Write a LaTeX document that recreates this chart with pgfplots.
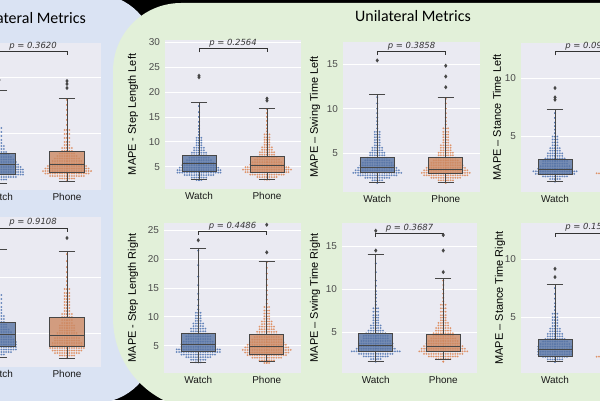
\documentclass[border=0pt]{standalone}
\usepackage{fontspec}
\setmainfont{Liberation Sans}
\newfontfamily\calibri{Carlito}
\newfontfamily\djv{DejaVu Sans}
\usepackage{pgfplots}
\pgfplotsset{compat=1.18}
\usepgfplotslibrary{statistics}
\definecolor{panelblue}{HTML}{DAE3F3}
\definecolor{panelgreen}{HTML}{E2F0D9}
\definecolor{sbbg}{HTML}{EAEAF2}
\definecolor{wbox}{HTML}{5975A4}
\definecolor{pbox}{HTML}{CC8963}
\definecolor{wdot}{HTML}{4C72B0}
\definecolor{pdot}{HTML}{DD8452}
\definecolor{edge}{HTML}{474747}
\tikzset{ptext/.style={anchor=south, inner sep=1.2bp, font=\djv\itshape\fontsize{8.5}{10}\selectfont, text=black!80}}
\pgfplotsset{
 sb/.style={scale only axis, anchor=south west, axis background/.style={fill=sbbg},
  axis line style={draw=none}, ymajorgrids, grid style={white, line width=0.9bp},
  major tick length=0pt, xmin=-0.5, xmax=1.5, xtick={0,1}, xticklabels={Watch,Phone},
  tick label style={font=\fontsize{10}{12}\selectfont},
  xticklabel style={text=black!90}, yticklabel style={text=black!70, xshift=-1.5bp},
  ylabel style={font=\fontsize{11}{13}\selectfont, text=black, anchor=center},
  /pgf/number format/assume math mode=true, clip=false},
 swarm/.style={draw=none, mark=none, forget plot, error bars/.cd, x dir=both, x explicit,
  error mark=none, error bar style={draw=#1, draw opacity=0.85, line width=2bp,
  line cap=round, dash pattern=on 0bp off 2.4bp}},
 bx/.style={boxplot/draw direction=y, draw=edge, line width=1bp, fill=#1, fill opacity=0.8, mark=diamond*,
  mark size=1.3bp, mark options={draw=edge, fill=edge, fill opacity=1}},
 brk/.style={draw=black!80, line width=1bp, mark=none, forget plot},
}
\begin{document}
\begin{tikzpicture}[x=1bp,y=1bp]
\useasboundingbox (0,0) rectangle (600,400);
\clip (0,0) rectangle (600,400);
\fill[black] (0,0) rectangle (600,400);
\fill[panelblue, rounded corners=60bp] (-100,-3) rectangle (155,406);
\fill[panelgreen] (620,397) -- (181,397) arc[start angle=90, end angle=180, radius=68] -- (113,82) arc[start angle=180, end angle=270, radius=92] -- (620,-10) -- cycle;
\node[anchor=base, inner sep=0, font=\calibri\fontsize{16}{19}\selectfont] at (413,379) {Unilateral Metrics};
\node[anchor=base east, inner sep=0, font=\calibri\fontsize{16}{19}\selectfont] at (86,377) {Bilateral Metrics};

% ---------------- A1 ----------------
\begin{axis}[sb, at={(-35bp,210bp)}, width=136bp, height=147bp, ymin=0, ymax=14.7, ytick={5.7,11.3}, yticklabels={}]
\addplot[swarm=wdot] table[x=x,y=y,x error=w,row sep=\\]{x y w\\
0 0.8 .03\\ 0 1.05 .12\\ 0 1.3 .25\\ 0 1.55 .36\\ 0 1.8 .38\\ 0 2.05 .36\\ 0 2.3 .32\\ 0 2.55 .3\\ 0 2.8 .26\\ 0 3.05 .22\\ 0 3.3 .2\\ 0 3.55 .16\\ 0 3.8 .12\\ 0 4.1 .1\\ 0 4.4 .08\\ 0 4.7 .07\\ 0 5.0 .06\\ 0 5.4 .05\\ 0 5.8 .04\\ 0 6.2 .04\\ 0 6.6 .03\\ 0 7.0 .03\\ 0 7.5 .02\\ 0 8.0 .02\\ 0 8.6 .01\\ 0 9.2 .01\\ 0 9.8 .01\\};
\addplot[swarm=pdot] table[x=x,y=y,x error=w,row sep=\\]{x y w\\
1 0.9 .03\\ 1 1.15 .14\\ 1 1.4 .26\\ 1 1.65 .34\\ 1 1.9 .36\\ 1 2.15 .34\\ 1 2.4 .3\\ 1 2.65 .26\\ 1 2.9 .22\\ 1 3.15 .18\\ 1 3.4 .15\\ 1 3.65 .12\\ 1 3.9 .1\\ 1 4.2 .08\\ 1 4.5 .07\\ 1 4.8 .06\\ 1 5.2 .05\\ 1 5.6 .04\\ 1 6.0 .04\\ 1 6.5 .03\\ 1 7.0 .03\\ 1 7.5 .02\\ 1 8.0 .02\\ 1 8.5 .01\\ 1 9.0 .01\\};
\addplot[bx=wbox, boxplot prepared={lower whisker=0.7, lower quartile=1.6, median=2.6, upper quartile=3.6, upper whisker=9.9, draw position=0, box extend=0.5, whisker extend=0.24}] table[row sep=\\,y index=0]{11.0\\};
\addplot[bx=pbox, boxplot prepared={lower whisker=0.9, lower quartile=1.8, median=2.6, upper quartile=3.8, upper whisker=9.1, draw position=1, box extend=0.5, whisker extend=0.24}] table[row sep=\\,y index=0]{10.2\\ 10.6\\ 10.9\\};
\addplot[brk] coordinates {(0,13.45) (0,13.8) (1,13.8) (1,13.45)};
\node[ptext] at (axis cs:0.5,13.8) {p = 0.3620};
\end{axis}

% ---------------- A2 ----------------
\begin{axis}[sb, at={(-35bp,33bp)}, width=136bp, height=150bp, ymin=0, ymax=15, ytick={3.4,9}, yticklabels={}]
\addplot[swarm=wdot] table[x=x,y=y,x error=w,row sep=\\]{x y w\\
0 1.0 .03\\ 0 1.25 .1\\ 0 1.5 .2\\ 0 1.75 .26\\ 0 2.0 .28\\ 0 2.25 .27\\ 0 2.5 .25\\ 0 2.75 .23\\ 0 3.0 .21\\ 0 3.25 .2\\ 0 3.5 .18\\ 0 3.75 .16\\ 0 4.0 .14\\ 0 4.25 .12\\ 0 4.5 .1\\ 0 4.8 .09\\ 0 5.1 .08\\ 0 5.4 .07\\ 0 5.7 .06\\ 0 6.0 .06\\ 0 6.4 .05\\ 0 6.8 .04\\ 0 7.2 .04\\ 0 7.6 .03\\ 0 8.0 .03\\ 0 8.5 .02\\ 0 9.0 .02\\ 0 9.6 .01\\ 0 10.2 .01\\ 0 10.8 .01\\ 0 11.5 .01\\};
\addplot[swarm=pdot] table[x=x,y=y,x error=w,row sep=\\]{x y w\\
1 0.9 .03\\ 1 1.15 .12\\ 1 1.4 .2\\ 1 1.65 .24\\ 1 1.9 .25\\ 1 2.15 .24\\ 1 2.4 .22\\ 1 2.65 .2\\ 1 2.9 .18\\ 1 3.15 .17\\ 1 3.4 .15\\ 1 3.65 .14\\ 1 3.9 .13\\ 1 4.15 .12\\ 1 4.4 .1\\ 1 4.7 .1\\ 1 5.0 .09\\ 1 5.3 .08\\ 1 5.6 .07\\ 1 5.9 .07\\ 1 6.2 .06\\ 1 6.5 .05\\ 1 6.8 .05\\ 1 7.1 .05\\ 1 7.4 .04\\ 1 7.8 .04\\ 1 8.2 .03\\ 1 8.6 .03\\ 1 9.0 .02\\ 1 9.5 .02\\ 1 10.0 .01\\ 1 10.6 .01\\ 1 11.3 .01\\};
\addplot[bx=wbox, boxplot prepared={lower whisker=1.0, lower quartile=2.1, median=3.3, upper quartile=4.5, upper whisker=11.8, draw position=0, box extend=0.5, whisker extend=0.24}] coordinates {};
\addplot[bx=pbox, boxplot prepared={lower whisker=0.9, lower quartile=2.1, median=3.2, upper quartile=5.0, upper whisker=11.6, draw position=1, box extend=0.5, whisker extend=0.24}] table[row sep=\\,y index=0]{12.9\\};
\addplot[brk] coordinates {(0,13.55) (0,13.9) (1,13.9) (1,13.55)};
\node[ptext] at (axis cs:0.5,13.9) {p = 0.9108};
\end{axis}

% ---------------- B1 ----------------
\begin{axis}[sb, at={(165bp,211bp)}, width=136bp, height=149bp, ymin=0.5, ymax=30.5, ytick={5,10,...,30},
 ylabel={MAPE - Step Length Left}, ylabel style={at={(axis description cs:-0.235,0.5)}}]
\addplot[swarm=wdot] table[x=x,y=y,x error=w,row sep=\\]{x y w\\
0 2.3 .04\\ 0 2.8 .12\\ 0 3.3 .22\\ 0 3.8 .33\\ 0 4.3 .35\\ 0 4.8 .3\\ 0 5.3 .26\\ 0 5.8 .22\\ 0 6.3 .2\\ 0 6.8 .17\\ 0 7.3 .14\\ 0 7.8 .11\\ 0 8.3 .09\\ 0 8.8 .08\\ 0 9.3 .06\\ 0 9.8 .05\\ 0 10.3 .05\\ 0 10.8 .04\\ 0 11.4 .03\\ 0 12.0 .03\\ 0 12.6 .02\\ 0 13.2 .02\\ 0 14.0 .02\\ 0 15.0 .01\\ 0 16.0 .01\\ 0 17.2 .01\\};
\addplot[swarm=pdot] table[x=x,y=y,x error=w,row sep=\\]{x y w\\
1 2.4 .05\\ 1 2.9 .16\\ 1 3.4 .26\\ 1 3.9 .34\\ 1 4.4 .37\\ 1 4.9 .32\\ 1 5.4 .27\\ 1 5.9 .23\\ 1 6.4 .2\\ 1 6.9 .17\\ 1 7.4 .14\\ 1 7.9 .12\\ 1 8.4 .1\\ 1 8.9 .08\\ 1 9.4 .07\\ 1 9.9 .06\\ 1 10.4 .05\\ 1 10.9 .05\\ 1 11.5 .04\\ 1 12.1 .03\\ 1 12.7 .03\\ 1 13.4 .02\\ 1 14.2 .02\\ 1 15.0 .01\\ 1 15.8 .01\\ 1 16.6 .01\\};
\addplot[bx=wbox, boxplot prepared={lower whisker=2.35, lower quartile=4.0, median=5.55, upper quartile=7.2, upper whisker=17.9, draw position=0, box extend=0.5, whisker extend=0.24}] table[row sep=\\,y index=0]{23.0\\ 23.3\\};
\addplot[bx=pbox, boxplot prepared={lower whisker=2.5, lower quartile=3.85, median=5.2, upper quartile=7.1, upper whisker=16.8, draw position=1, box extend=0.5, whisker extend=0.24}] table[row sep=\\,y index=0]{18.3\\ 18.7\\};
\addplot[brk] coordinates {(0,28.0) (0,28.7) (1,28.7) (1,28.0)};
\node[ptext] at (axis cs:0.5,28.7) {p = 0.2564};
\end{axis}

% ---------------- B2 ----------------
\begin{axis}[sb, at={(164bp,27bp)}, width=137bp, height=150bp, ymin=0.25, ymax=26.3, ytick={5,10,...,25},
 ylabel={MAPE - Step Length Right}, ylabel style={at={(axis description cs:-0.226,0.5)}}]
\addplot[swarm=wdot] table[x=x,y=y,x error=w,row sep=\\]{x y w\\
0 2.1 .04\\ 0 2.55 .12\\ 0 3.0 .2\\ 0 3.45 .28\\ 0 3.9 .33\\ 0 4.35 .32\\ 0 4.8 .28\\ 0 5.25 .25\\ 0 5.7 .22\\ 0 6.15 .2\\ 0 6.6 .18\\ 0 7.05 .16\\ 0 7.5 .13\\ 0 7.95 .11\\ 0 8.4 .09\\ 0 8.85 .08\\ 0 9.3 .07\\ 0 9.75 .06\\ 0 10.2 .05\\ 0 10.7 .04\\ 0 11.3 .03\\ 0 12.0 .02\\ 0 13.0 .02\\ 0 14.0 .01\\ 0 15.5 .01\\ 0 17.0 .01\\ 0 19.0 .01\\ 0 21.5 .01\\};
\addplot[swarm=pdot] table[x=x,y=y,x error=w,row sep=\\]{x y w\\
1 2.0 .04\\ 1 2.45 .12\\ 1 2.9 .22\\ 1 3.35 .3\\ 1 3.8 .35\\ 1 4.25 .37\\ 1 4.7 .33\\ 1 5.15 .29\\ 1 5.6 .25\\ 1 6.05 .22\\ 1 6.5 .19\\ 1 6.95 .17\\ 1 7.4 .15\\ 1 7.85 .13\\ 1 8.3 .11\\ 1 8.75 .1\\ 1 9.2 .08\\ 1 9.65 .07\\ 1 10.1 .06\\ 1 10.6 .05\\ 1 11.1 .04\\ 1 11.7 .04\\ 1 12.3 .03\\ 1 13.0 .03\\ 1 13.8 .02\\ 1 14.6 .02\\ 1 15.5 .01\\ 1 16.5 .01\\ 1 17.5 .01\\ 1 18.5 .01\\ 1 19.5 .01\\};
\addplot[bx=wbox, boxplot prepared={lower whisker=2.1, lower quartile=3.96, median=5.25, upper quartile=7.15, upper whisker=21.8, draw position=0, box extend=0.5, whisker extend=0.24}] table[row sep=\\,y index=0]{23.3\\};
\addplot[bx=pbox, boxplot prepared={lower whisker=2.2, lower quartile=3.55, median=4.8, upper quartile=7.0, upper whisker=19.7, draw position=1, box extend=0.5, whisker extend=0.24}] table[row sep=\\,y index=0]{21.2\\ 26.0\\};
\addplot[brk] coordinates {(0,24.2) (0,24.8) (1,24.8) (1,24.2)};
\node[ptext] at (axis cs:0.5,24.8) {p = 0.4486};
\end{axis}

% ---------------- C1 ----------------
\begin{axis}[sb, at={(343bp,208bp)}, width=137bp, height=150bp, ymin=0.67, ymax=17.46, ytick={5,10,15},
 ylabel={MAPE – Swing Time Left}, ylabel style={at={(axis description cs:-0.204,0.5)}}]
\addplot[swarm=wdot] table[x=x,y=y,x error=w,row sep=\\]{x y w\\
0 1.7 .03\\ 0 1.98 .1\\ 0 2.26 .2\\ 0 2.54 .3\\ 0 2.82 .36\\ 0 3.1 .34\\ 0 3.38 .3\\ 0 3.66 .26\\ 0 3.94 .22\\ 0 4.22 .2\\ 0 4.5 .17\\ 0 4.78 .14\\ 0 5.06 .12\\ 0 5.34 .1\\ 0 5.62 .08\\ 0 5.9 .07\\ 0 6.2 .06\\ 0 6.5 .05\\ 0 6.8 .05\\ 0 7.1 .04\\ 0 7.4 .04\\ 0 7.8 .03\\ 0 8.2 .03\\ 0 8.6 .02\\ 0 9.0 .02\\ 0 9.5 .01\\ 0 10.0 .01\\ 0 10.6 .01\\ 0 11.3 .01\\};
\addplot[swarm=pdot] table[x=x,y=y,x error=w,row sep=\\]{x y w\\
1 1.7 .03\\ 1 1.98 .12\\ 1 2.26 .24\\ 1 2.54 .34\\ 1 2.82 .38\\ 1 3.1 .35\\ 1 3.38 .3\\ 1 3.66 .26\\ 1 3.94 .22\\ 1 4.22 .19\\ 1 4.5 .16\\ 1 4.78 .14\\ 1 5.06 .12\\ 1 5.34 .1\\ 1 5.62 .09\\ 1 5.9 .08\\ 1 6.2 .07\\ 1 6.5 .06\\ 1 6.8 .05\\ 1 7.1 .05\\ 1 7.4 .04\\ 1 7.8 .04\\ 1 8.2 .03\\ 1 8.6 .03\\ 1 9.0 .02\\ 1 9.5 .02\\ 1 10.0 .01\\ 1 10.6 .01\\ 1 11.1 .01\\};
\addplot[bx=wbox, boxplot prepared={lower whisker=1.7, lower quartile=2.83, median=3.43, upper quartile=4.55, upper whisker=11.6, draw position=0, box extend=0.5, whisker extend=0.24}] table[row sep=\\,y index=0]{15.4\\};
\addplot[bx=pbox, boxplot prepared={lower whisker=1.7, lower quartile=2.76, median=3.2, upper quartile=4.55, upper whisker=11.2, draw position=1, box extend=0.5, whisker extend=0.24}] table[row sep=\\,y index=0]{12.4\\ 13.6\\ 14.8\\};
\addplot[brk] coordinates {(0,16.0) (0,16.4) (1,16.4) (1,16.0)};
\node[ptext] at (axis cs:0.5,16.4) {p = 0.3858};
\end{axis}

% ---------------- C2 ----------------
\begin{axis}[sb, at={(342bp,27bp)}, width=135bp, height=150bp, ymin=0.28, ymax=17.7, ytick={5,10,15},
 ylabel={MAPE – Swing Time Right}, ylabel style={at={(axis description cs:-0.2,0.5)}}]
\addplot[swarm=wdot] table[x=x,y=y,x error=w,row sep=\\]{x y w\\
0 1.6 .03\\ 0 1.9 .1\\ 0 2.2 .18\\ 0 2.5 .26\\ 0 2.8 .39\\ 0 3.1 .32\\ 0 3.4 .28\\ 0 3.7 .25\\ 0 4.0 .22\\ 0 4.3 .2\\ 0 4.6 .18\\ 0 4.9 .15\\ 0 5.2 .12\\ 0 5.5 .1\\ 0 5.8 .08\\ 0 6.1 .07\\ 0 6.4 .06\\ 0 6.7 .05\\ 0 7.0 .05\\ 0 7.4 .04\\ 0 7.8 .04\\ 0 8.2 .03\\ 0 8.6 .03\\ 0 9.0 .03\\ 0 9.4 .02\\ 0 9.8 .02\\ 0 10.4 .01\\ 0 11.0 .01\\ 0 12.0 .01\\ 0 13.0 .01\\};
\addplot[swarm=pdot] table[x=x,y=y,x error=w,row sep=\\]{x y w\\
1 1.6 .03\\ 1 1.9 .12\\ 1 2.2 .22\\ 1 2.5 .3\\ 1 2.8 .38\\ 1 3.1 .34\\ 1 3.4 .3\\ 1 3.7 .26\\ 1 4.0 .22\\ 1 4.3 .2\\ 1 4.6 .17\\ 1 4.9 .15\\ 1 5.2 .13\\ 1 5.5 .11\\ 1 5.8 .09\\ 1 6.1 .08\\ 1 6.4 .07\\ 1 6.7 .06\\ 1 7.0 .05\\ 1 7.4 .05\\ 1 7.8 .04\\ 1 8.2 .04\\ 1 8.6 .03\\ 1 9.0 .03\\ 1 9.5 .02\\ 1 10.0 .02\\ 1 10.5 .01\\ 1 11.0 .01\\};
\addplot[bx=wbox, boxplot prepared={lower whisker=1.67, lower quartile=2.83, median=3.53, upper quartile=4.9, upper whisker=14.0, draw position=0, box extend=0.5, whisker extend=0.24}] table[row sep=\\,y index=0]{14.5\\ 16.8\\};
\addplot[bx=pbox, boxplot prepared={lower whisker=1.8, lower quartile=2.75, median=3.33, upper quartile=4.8, upper whisker=11.2, draw position=1, box extend=0.5, whisker extend=0.24}] table[row sep=\\,y index=0]{12.0\\ 14.5\\ 16.3\\};
\addplot[brk] coordinates {(0,16.1) (0,16.5) (1,16.5) (1,16.1)};
\node[ptext] at (axis cs:0.5,16.5) {p = 0.3687};
\end{axis}

% ---------------- D1 ----------------
\begin{axis}[sb, at={(521bp,208bp)}, width=136bp, height=149bp, ymin=0.26, ymax=13.0, ytick={5,10},
 ylabel={MAPE – Stance Time Left}, ylabel style={at={(axis description cs:-0.176,0.5)}}]
\addplot[swarm=wdot] table[x=x,y=y,x error=w,row sep=\\]{x y w\\
0 1.15 .03\\ 0 1.37 .1\\ 0 1.59 .2\\ 0 1.81 .3\\ 0 2.03 .33\\ 0 2.25 .28\\ 0 2.47 .24\\ 0 2.69 .2\\ 0 2.91 .18\\ 0 3.13 .15\\ 0 3.35 .13\\ 0 3.57 .11\\ 0 3.79 .09\\ 0 4.01 .08\\ 0 4.25 .06\\ 0 4.5 .05\\ 0 4.75 .05\\ 0 5.0 .04\\ 0 5.3 .03\\ 0 5.6 .03\\ 0 5.9 .02\\ 0 6.2 .02\\ 0 6.6 .01\\ 0 7.0 .01\\};
\addplot[swarm=pdot] table[x=x,y=y,x error=w,row sep=\\]{x y w\\
1 1.2 .05\\ 1 1.42 .15\\ 1 1.64 .3\\ 1 1.86 .4\\ 1 2.08 .35\\ 1 2.3 .3\\ 1 2.52 .25\\ 1 2.74 .2\\ 1 2.96 .16\\ 1 3.2 .12\\ 1 3.5 .09\\ 1 3.8 .07\\ 1 4.1 .05\\ 1 4.5 .04\\ 1 5.0 .03\\ 1 5.5 .02\\ 1 6.0 .01\\};
\addplot[bx=wbox, boxplot prepared={lower whisker=1.2, lower quartile=1.72, median=2.2, upper quartile=3.06, upper whisker=7.3, draw position=0, box extend=0.5, whisker extend=0.24}] table[row sep=\\,y index=0]{8.15\\ 8.35\\ 9.15\\};
\addplot[bx=pbox, boxplot prepared={lower whisker=1.1, lower quartile=1.6, median=2.0, upper quartile=2.9, upper whisker=6.5, draw position=1, box extend=0.5, whisker extend=0.24}] coordinates {};
\addplot[brk] coordinates {(0,11.95) (0,12.3) (1,12.3) (1,11.95)};
\node[ptext] at (axis cs:0.5,12.3) {p = 0.0987};
\end{axis}

% ---------------- D2 ----------------
\begin{axis}[sb, at={(521bp,27bp)}, width=136bp, height=150bp, ymin=0.2, ymax=13.1, ytick={5,10},
 ylabel={MAPE – Stance Time Right}, ylabel style={at={(axis description cs:-0.155,0.5)}}]
\addplot[swarm=wdot] table[x=x,y=y,x error=w,row sep=\\]{x y w\\
0 1.15 .03\\ 0 1.37 .12\\ 0 1.59 .2\\ 0 1.81 .25\\ 0 2.03 .27\\ 0 2.25 .28\\ 0 2.47 .25\\ 0 2.69 .22\\ 0 2.91 .2\\ 0 3.13 .17\\ 0 3.35 .14\\ 0 3.57 .12\\ 0 3.79 .1\\ 0 4.01 .08\\ 0 4.25 .07\\ 0 4.5 .06\\ 0 4.75 .05\\ 0 5.0 .04\\ 0 5.3 .04\\ 0 5.6 .03\\ 0 5.9 .02\\ 0 6.2 .02\\ 0 6.6 .01\\ 0 7.0 .01\\ 0 7.5 .01\\};
\addplot[swarm=pdot] table[x=x,y=y,x error=w,row sep=\\]{x y w\\
1 1.2 .05\\ 1 1.4 .2\\ 1 1.6 .4\\ 1 1.82 .35\\ 1 2.04 .3\\ 1 2.26 .25\\ 1 2.5 .2\\ 1 2.75 .15\\ 1 3.0 .12\\ 1 3.3 .09\\ 1 3.6 .07\\ 1 4.0 .05\\ 1 4.5 .03\\ 1 5.0 .02\\ 1 5.6 .01\\};
\addplot[bx=wbox, boxplot prepared={lower whisker=1.17, lower quartile=1.66, median=2.24, upper quartile=3.04, upper whisker=7.8, draw position=0, box extend=0.5, whisker extend=0.24}] table[row sep=\\,y index=0]{8.45\\ 9.16\\};
\addplot[bx=pbox, boxplot prepared={lower whisker=1.1, lower quartile=1.55, median=2.0, upper quartile=2.9, upper whisker=6.2, draw position=1, box extend=0.5, whisker extend=0.24}] coordinates {};
\addplot[brk] coordinates {(0,11.9) (0,12.24) (1,12.24) (1,11.9)};
\node[ptext] at (axis cs:0.5,12.24) {p = 0.1532};
\end{axis}
\end{tikzpicture}
\end{document}
